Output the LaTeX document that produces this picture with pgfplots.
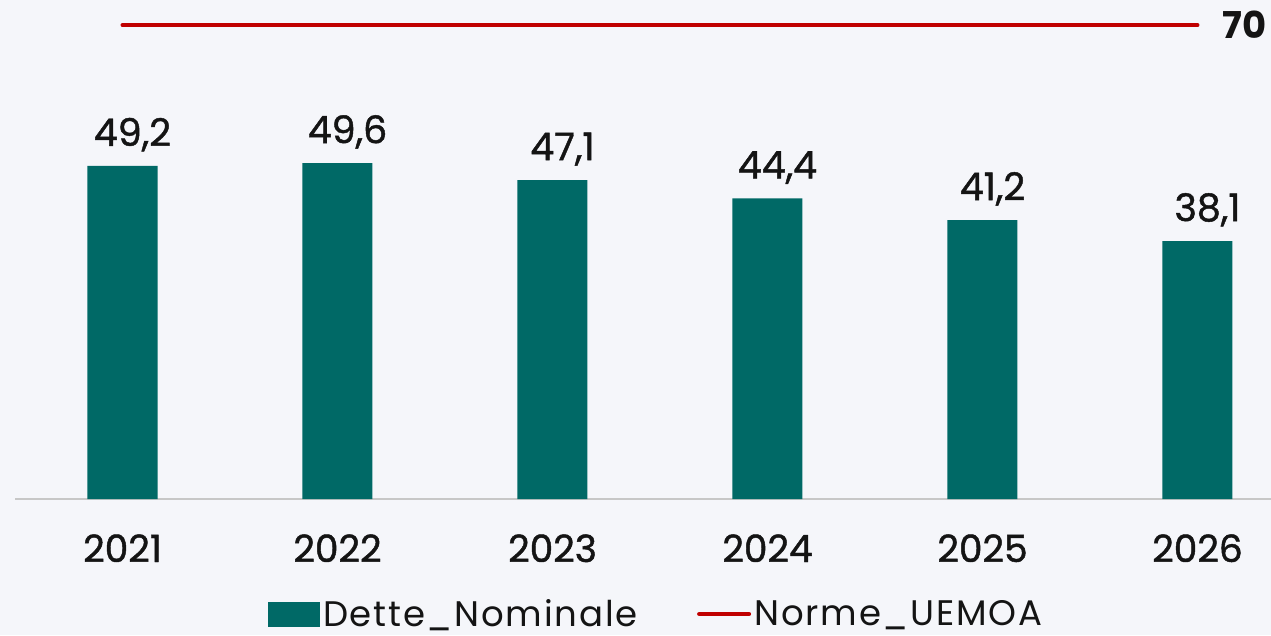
\documentclass[border=0pt]{standalone}
\usepackage{pgfplots}
\pgfplotsset{compat=1.18}
\usepackage{fontspec}
\setmainfont{Poppins}
\newfontfamily\medfont[FakeBold=1.2]{Poppins}
\newfontfamily\legfont[LetterSpace=5]{Poppins}
\definecolor{bgc}{HTML}{F5F6FA}
\definecolor{barc}{HTML}{006966}
\definecolor{nred}{HTML}{C00000}
\definecolor{txt}{HTML}{141414}
\begin{document}
\begin{tikzpicture}[x=1pt,y=1pt]
\fill[bgc] (0,0) rectangle (1271,635);
\begin{scope}
\clip (0,0) rectangle (1271,635);
\begin{axis}[
  at={(15pt,136pt)}, anchor=south west,
  scale only axis, width=1290pt, height=487.4pt,
  xmin=-0.5, xmax=5.5, ymin=0, ymax=72,
  clip=false,
  axis x line*=bottom, axis y line=none,
  x axis line style={draw=black!22, line width=2pt, -},
  xtick={0,1,2,3,4,5},
  xticklabels={2021,2022,2023,2024,2025,2026},
  major tick length=0pt,
  xticklabel style={font=\fontsize{37.5}{37.5}\medfont, text=txt, anchor=base, yshift=-63pt, inner sep=0pt},
  ytick=\empty,
  legend columns=2,
  legend style={at={(axis description cs:0.4975,-0.236)}, anchor=center, draw=none, fill=none,
    font=\fontsize{35.5}{35.5}\legfont, text=txt,
    nodes={inner sep=3.5pt},
    /tikz/every even column/.append style={column sep=56pt}},
]
\addplot[ybar, bar width=70pt, fill=barc, draw=none,
  nodes near coords,
  nodes near coords style={font=\fontsize{38}{38}\medfont, text=txt, anchor=base, inner sep=0pt, yshift=20pt, xshift=10pt,
    /pgf/number format/.cd, use comma, fixed, fixed zerofill, precision=1, assume math mode=true},
  legend image code/.code={\fill[barc] (0pt,-13pt) rectangle (52pt,12pt);}]
  coordinates {(0,49.2) (1,49.6) (2,47.1) (3,44.4) (4,41.2) (5,38.1)};
\addlegendentry{Dette\_Nominale}
\addplot[nred, line width=4pt, line cap=round, mark=none,
  legend image code/.code={\draw[nred, line width=4pt, line cap=round] (0pt,0pt) -- (50pt,0pt);}]
  coordinates {(0,70) (5,70)};
\addlegendentry{Norme\_UEMOA}
\node[anchor=west, inner sep=0pt, xshift=25pt, font=\fontsize{37}{37}\selectfont\bfseries, text=txt] at (axis cs:5,70) {70};
\end{axis}
\end{scope}
\useasboundingbox (0,0) rectangle (1271,635);
\end{tikzpicture}
\end{document}
